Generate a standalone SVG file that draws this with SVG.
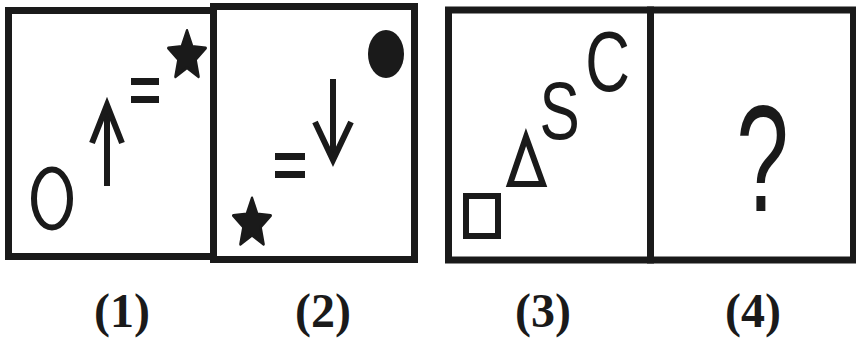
<svg xmlns="http://www.w3.org/2000/svg" width="856" height="342" viewBox="0 0 856 342">
<style>
.frame{fill:none;stroke:#1a1a1a;stroke-width:7}
.ln{fill:none;stroke:#1a1a1a;stroke-width:6}
.fill{fill:#1a1a1a}
.lbl{font-family:"Liberation Serif",serif;font-weight:bold;font-size:48px;fill:#1a1a1a;text-anchor:middle}
.let{font-family:"Liberation Sans",Arial,sans-serif;fill:#1a1a1a;text-anchor:middle}
</style>
<defs>
<polygon id="star" points="0,-24 6.47,-8.9 22.83,-7.42 10.46,3.4 14.11,19.42 0,11 -14.11,19.42 -10.46,3.4 -22.83,-7.42 -6.47,-8.9" fill="#1a1a1a" stroke="#1a1a1a" stroke-width="3" stroke-linejoin="round"/>
</defs>
<rect width="856" height="342" fill="#ffffff"/>
<g id="panel1">
<rect class="frame" x="8.5" y="10.5" width="205" height="246"/>
<ellipse class="ln" cx="52" cy="198.5" rx="18" ry="29" stroke-width="5"/>
<line class="ln" x1="107" y1="108" x2="107" y2="186"/>
<polyline class="ln" points="92,143 107,105 122,143"/>
<rect class="fill" x="131" y="78" width="28" height="7"/>
<rect class="fill" x="131" y="96" width="28" height="7"/>
<use href="#star" transform="translate(187,56) scale(0.82,1.06)"/>
</g>
<g id="panel2">
<rect class="frame" x="213.5" y="6.5" width="201" height="253"/>
<ellipse class="fill" cx="386" cy="54" rx="18" ry="24"/>
<line class="ln" x1="333" y1="79" x2="333" y2="158"/>
<polyline class="ln" points="315,122 333,160 351,122"/>
<rect class="fill" x="275" y="153" width="30" height="7"/>
<rect class="fill" x="275" y="171" width="30" height="7"/>
<use href="#star" transform="translate(252,223.5) scale(0.82,1.06)"/>
</g>
<g id="panel3">
<rect class="frame" x="448.5" y="10" width="202" height="250"/>
<rect class="ln" x="466" y="196" width="32" height="40"/>
<polygon class="ln" points="526,137 510,184 543,184"/>
<text class="let" font-size="81" transform="translate(559.5,139) scale(0.745,1)">S</text>
<text class="let" font-size="86" transform="translate(607.5,91) scale(0.72,1)">C</text>
</g>
<g id="panel4">
<rect class="frame" x="650.5" y="10" width="203" height="250"/>
<text class="let" font-size="152" transform="translate(762.5,211) scale(0.62,1)">?</text>
</g>
<g id="labels">
<text class="lbl" x="122" y="327">(1)</text>
<text class="lbl" x="323" y="327">(2)</text>
<text class="lbl" x="543" y="327">(3)</text>
<text class="lbl" x="753" y="327">(4)</text>
</g>
</svg>
